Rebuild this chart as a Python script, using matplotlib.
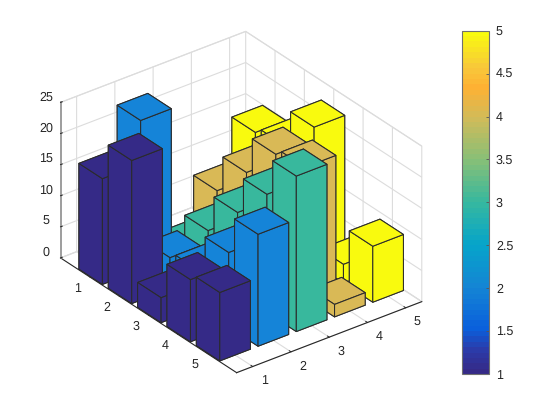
import matplotlib
matplotlib.use("Agg")
import matplotlib.pyplot as plt
import numpy as np
from matplotlib.colors import LinearSegmentedColormap, Normalize
from matplotlib.cm import ScalarMappable

plt.rcParams['font.family'] = ['Liberation Sans', 'DejaVu Sans']
plt.rcParams['font.size'] = 8.8
plt.rcParams['text.hinting'] = 'no_hinting'

# Heights: one list per x position (colour group), y = 1..5 within each
col1 = [17, 23, 4, 10, 11]
col2 = [24, 5, 6, 12, 18]
col3 = [1, 7, 13, 19, 25]
col4 = [8, 14, 20, 21, 2]
col5 = [15, 16, 22, 3, 9]
columns = [col1, col2, col3, col4, col5]
x_ticks = [1, 2, 3, 4, 5]
y_ticks = [1, 2, 3, 4, 5]
z_ticks = [0, 5, 10, 15, 20, 25]
cbar_ticks = [1, 1.5, 2, 2.5, 3, 3.5, 4, 4.5, 5]
cbar_labels = ['1', '1.5', '2', '2.5', '3', '3.5', '4', '4.5', '5']

anchors = [(0.0, '#352a87'), (0.0625, '#2c3aa8'), (0.125, '#0a5fdc'), (0.25, '#1485d4'),
           (0.375, '#06a4ca'), (0.5, '#36b89f'), (0.625, '#87bf77'), (0.75, '#d1bb59'),
           (0.84, '#feb133'), (0.9, '#f8c83a'), (1.0, '#f9fb0e')]
parula = LinearSegmentedColormap.from_list('parula_like', anchors, N=64)
bar_colors = ['#352a87', '#1584d8', '#38b89d', '#d9b956', '#f9fa0e']

DARK = '#262626'
GRID = '#dcdcdc'
EDGE = '#2b2b2b'

fig = plt.figure(figsize=(5.6, 4.2), dpi=100, facecolor='white')
ax = fig.add_axes([35.4 / 560, 12.2 / 420, 400.7 / 560, 400.7 / 420], projection='3d')
ax.set_proj_type('ortho')
ax.view_init(elev=30, azim=-127.5)
ax.computed_zorder = False
ax.patch.set_visible(False)

width = 0.8
order = 0
for xi in range(len(columns) - 1, -1, -1):
    for yi in range(len(columns[xi])):
        order += 1
        ax.bar3d(x_ticks[xi] - width / 2, y_ticks[yi] - width / 2, 0, width, width,
                 columns[xi][yi], color=bar_colors[xi], edgecolor=EDGE, linewidth=0.75,
                 shade=False, zorder=order)

ax.set_xlim(0.58, 5.42)
ax.set_ylim(6, 0)
ax.set_zlim(0, 25)
ax.set_box_aspect((4.84 * 48.2, 6 * 48.2, 25 * 7.18))
ax.set_xticks(x_ticks)
ax.set_yticks(y_ticks)
ax.set_zticks(z_ticks)

for axis in (ax.xaxis, ax.yaxis, ax.zaxis):
    axis.set_pane_color((1, 1, 1, 1))
    axis.pane.set_edgecolor(GRID)
    axis.pane.set_linewidth(0.8)
    axis.line.set_color(DARK)
    axis.line.set_linewidth(0.8)
    axis._axinfo['grid'].update(color=GRID, linewidth=0.8, linestyle='-')
    axis._axinfo['tick'].update(inward_factor=0.0, outward_factor=0.12)
    axis._axinfo['tick']['linewidth'] = {True: 0.7, False: 0.7}
    axis._axinfo['tick']['color'] = DARK
ax.zaxis.line.set_color('#8c8c8c')
ax.zaxis.line.set_linewidth(1.2)
ax.tick_params(axis='x', colors=DARK, labelsize=9, pad=2)
ax.tick_params(axis='y', colors=DARK, labelsize=9, pad=2)
ax.tick_params(axis='z', colors=DARK, labelsize=9, pad=-2)
for label in ax.get_xticklabels() + ax.get_yticklabels() + ax.get_zticklabels():
    label.set_va('baseline')

cax = fig.add_axes([461.7 / 560, (420 - 374) / 420, 27.3 / 560, 343.3 / 420])
cb = fig.colorbar(ScalarMappable(Normalize(1, 5), parula), cax=cax)
cb.set_ticks(cbar_ticks)
cb.set_ticklabels(cbar_labels)
cb.ax.tick_params(direction='in', length=2, width=0.6, color='#555555', labelcolor=DARK,
                  labelsize=9, pad=5)
cb.outline.set_edgecolor('#707070')
cb.outline.set_linewidth(0.8)

fig.savefig('out.png', dpi=100)
